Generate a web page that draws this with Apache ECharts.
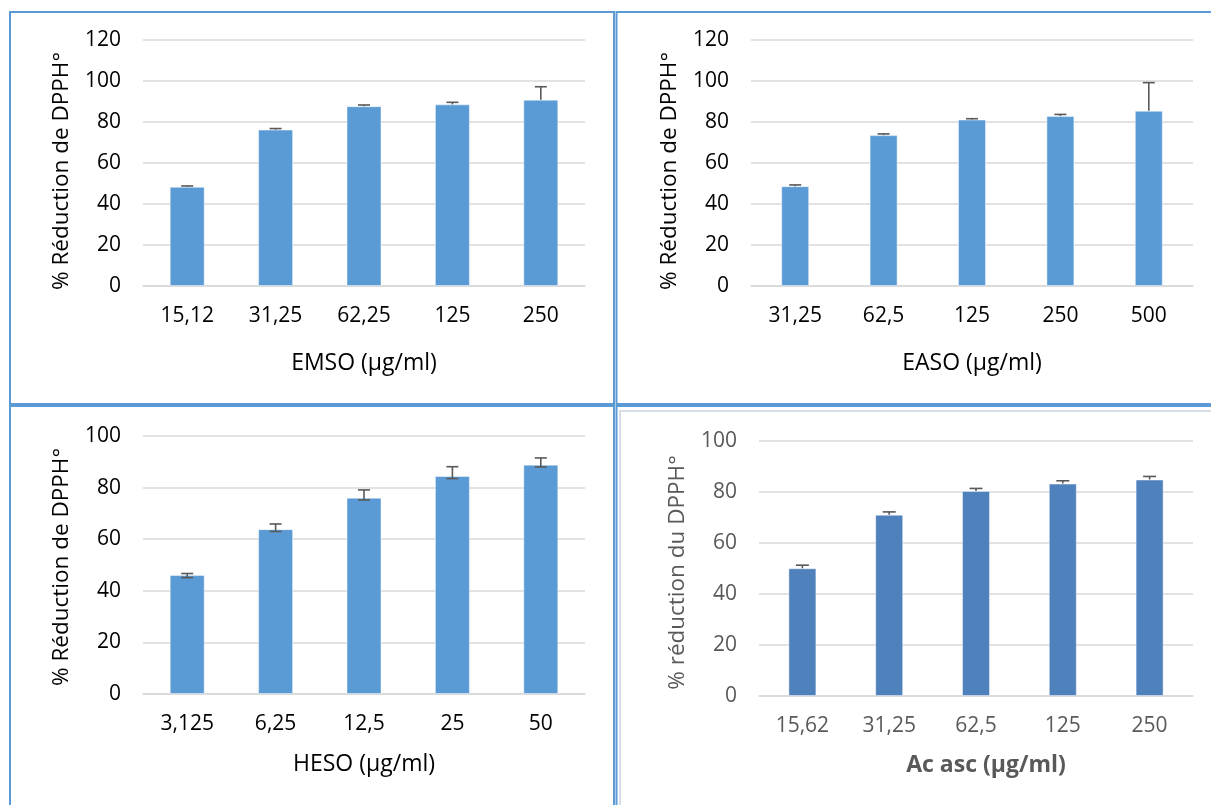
<!DOCTYPE html>
<html>
<head>
<meta charset="utf-8">
<title>Réduction du DPPH°</title>
<script src="https://cdn.jsdelivr.net/npm/echarts@6/dist/echarts.min.js"></script>
<style>
  html, body { margin: 0; padding: 0; background: #ffffff; }
  #chart { width: 1211px; height: 805px; }
</style>
</head>
<body>
<div id="chart"></div>
<script>
// ---- data ----
const emsoConc = ['15,12', '31,25', '62,25', '125', '250'];
const emsoMean = [48.4, 76.3, 87.7, 88.6, 90.9];
const emsoErr  = [0.4, 0.5, 0.6, 1.0, 6.3];

const easoConc = ['31,25', '62,5', '125', '250', '500'];
const easoMean = [48.7, 73.6, 81.2, 82.9, 85.5];
const easoErr  = [0.6, 0.6, 0.4, 0.8, 13.7];

const hesoConc = ['3,125', '6,25', '12,5', '25', '50'];
const hesoMean = [46.1, 63.9, 76.1, 84.5, 88.9];
const hesoLow  = [45.1, 63.0, 75.2, 83.5, 88.0];
const hesoHigh = [46.7, 65.9, 79.1, 88.1, 91.5];

const ascConc = ['15,62', '31,25', '62,5', '125', '250'];
const ascMean = [50.1, 71.1, 80.4, 83.3, 84.9];
const ascErr  = [1.2, 1.1, 1.0, 1.1, 1.2];

const yMaxTop = 120;
const yMaxBottom = 100;
const yStep = 20;

// ---- styling ----
const FONT = '"Open Sans", "DejaVu Sans", sans-serif';
const BLUE = '#5B9BD5';
const BLUE_DARK = '#4F81BD';
const GRID_GRAY = '#D9D9D9';
const ERR_GRAY = '#595959';

const panels = [
  { conc: emsoConc, mean: emsoMean, low: emsoMean, high: emsoMean.map((v, i) => v + emsoErr[i]), lowerCap: false,
    grid: { left: 143, top: 40, width: 442, height: 246 }, max: yMaxTop, barWidth: 35, color: BLUE,
    xName: 'EMSO (µg/ml)', yName: '% Réduction de DPPH°', textColor: '#000000', bold: false,
    nameGap: 66, xShift: 0, yShift: 16 },
  { conc: easoConc, mean: easoMean, low: easoMean, high: easoMean.map((v, i) => v + easoErr[i]), lowerCap: false,
    grid: { left: 751, top: 40, width: 442, height: 246 }, max: yMaxTop, barWidth: 28, color: BLUE,
    xName: 'EASO (µg/ml)', yName: '% Réduction de DPPH°', textColor: '#000000', bold: false,
    nameGap: 66, xShift: 0, yShift: 16 },
  { conc: hesoConc, mean: hesoMean, low: hesoLow, high: hesoHigh, lowerCap: true,
    grid: { left: 143, top: 436, width: 442, height: 258 }, max: yMaxBottom, barWidth: 35, color: BLUE,
    xName: 'HESO (µg/ml)', yName: '% Réduction de DPPH°', textColor: '#000000', bold: false,
    nameGap: 59, xShift: 0, yShift: 4 },
  { conc: ascConc, mean: ascMean, low: ascMean, high: ascMean.map((v, i) => v + ascErr[i]), lowerCap: false,
    grid: { left: 759, top: 441, width: 434, height: 255 }, max: yMaxBottom, barWidth: 28, color: BLUE_DARK,
    xName: 'Ac asc (µg/ml)', yName: '% réduction du DPPH°', textColor: '#595959', bold: true,
    nameGap: 58, xShift: 20, yShift: 8 }
];

const grids = [], xAxes = [], yAxes = [], series = [];

panels.forEach((p, k) => {
  grids.push(Object.assign({ containLabel: false }, p.grid));
  xAxes.push({
    type: 'category', gridIndex: k, data: p.conc,
    axisTick: { show: false },
    axisLine: { lineStyle: { color: GRID_GRAY, width: 1.5 } },
    axisLabel: { color: p.textColor, fontFamily: FONT, fontSize: 21, margin: 20 },
    name: p.xName, nameLocation: 'middle', nameGap: p.nameGap,
    nameTextStyle: { color: p.textColor, fontFamily: FONT, fontSize: 23, fontWeight: p.bold ? 'bold' : 'normal',
                     padding: [0, 0, 0, p.xShift] }
  });
  yAxes.push({
    type: 'value', gridIndex: k, min: 0, max: p.max, interval: yStep,
    axisLine: { show: false }, axisTick: { show: false },
    splitLine: { lineStyle: { color: GRID_GRAY, width: 1.5 } },
    axisLabel: { color: p.textColor, fontFamily: FONT, fontSize: 21, margin: 22 },
    name: p.yName, nameLocation: 'middle', nameGap: 70, nameRotate: 90,
    nameTextStyle: { color: p.textColor, fontFamily: FONT, fontSize: 22.5, padding: [0, p.yShift, 0, 0] }
  });
  series.push({
    type: 'bar', xAxisIndex: k, yAxisIndex: k, data: p.mean, barWidth: p.barWidth,
    itemStyle: { color: p.color, borderColor: 'rgba(255,255,255,0.45)', borderWidth: 1 },
    silent: true
  });
  const errData = p.conc.map((c, i) => [i, p.low[i], p.high[i]]);
  const capW = k === 3 ? 13 : 12;
  series.push({
    type: 'custom', xAxisIndex: k, yAxisIndex: k, data: errData, silent: true, z: 5,
    renderItem: function (params, api) {
      const idx = api.value(0);
      const lo = api.coord([idx, api.value(1)]);
      const hi = api.coord([idx, api.value(2)]);
      const style = { stroke: ERR_GRAY, lineWidth: 1.6, fill: null };
      const children = [
        { type: 'line', shape: { x1: lo[0], y1: lo[1], x2: hi[0], y2: hi[1] }, style: style },
        { type: 'line', shape: { x1: hi[0] - capW / 2, y1: hi[1], x2: hi[0] + capW / 2, y2: hi[1] }, style: style }
      ];
      if (p.lowerCap) {
        children.push({ type: 'line', shape: { x1: lo[0] - capW / 2, y1: lo[1], x2: lo[0] + capW / 2, y2: lo[1] }, style: style });
      }
      return { type: 'group', children: children };
    }
  });
});

// panel frames
const frame = (x, y, w, h, color, lw) => ({
  type: 'rect', silent: true, z: 100,
  shape: { x: x, y: y, width: w, height: h },
  style: { fill: null, stroke: color, lineWidth: lw }
});

const chart = echarts.init(document.getElementById('chart'), null, { renderer: 'canvas' });
chart.setOption({
  backgroundColor: '#ffffff',
  animation: false,
  grid: grids, xAxis: xAxes, yAxis: yAxes, series: series,
  graphic: [
    frame(10, 12, 604, 392, BLUE, 2),
    frame(616.5, 12, 610, 392, BLUE, 2),
    frame(10, 406, 604, 420, BLUE, 2),
    frame(616.5, 406, 610, 420, BLUE, 2),
    frame(620, 411, 610, 420, '#C9D3DF', 1.5)
  ]
});
</script>
</body>
</html>
